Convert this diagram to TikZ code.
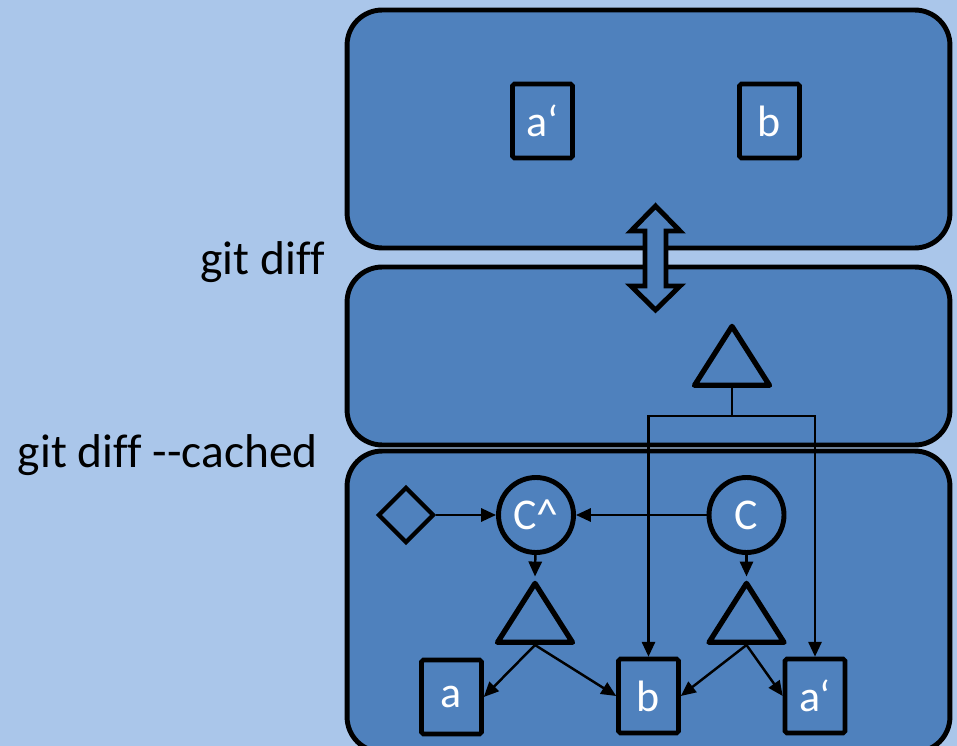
\documentclass[tikz,border=0pt]{standalone}
\usepackage{fontspec}
\setmainfont{Carlito}[Ligatures={TeX,NoCommon}]
\usetikzlibrary{arrows.meta,shapes.geometric,calc}
\definecolor{gitpale}{HTML}{AAC6EA}
\definecolor{gitblue}{HTML}{4F81BD}

\begin{document}
\begin{tikzpicture}[x=0.02cm,y=-0.02cm,
  area/.style={rectangle,rounded corners=20pt,draw=black,fill=gitblue,
               line width=2.8pt,minimum width=12.06cm,inner sep=0pt},
  blob/.style={rectangle,rounded corners=1pt,draw=black,fill=gitblue,
               line width=2.6pt,minimum width=1.2cm,minimum height=1.48cm,
               inner sep=0pt,text=white,font=\fontsize{25}{29}\selectfont},
  commit/.style={circle,draw=black,fill=gitblue,line width=2.8pt,
                 minimum size=1.5cm,inner sep=0pt,text=white,
                 font=\fontsize{25}{29}\selectfont},
  tree/.style={isosceles triangle,isosceles triangle stretches,
               shape border rotate=90,draw=black,fill=gitblue,
               line width=3pt,line join=round,minimum width=1.5cm,
               minimum height=1.18cm,inner sep=0pt,anchor=south},
  tag/.style={diamond,draw=black,fill=gitblue,line width=2.4pt,
              minimum size=1.12cm,inner sep=0pt},
  arr/.style={-{Triangle[length=8.5pt,width=7.5pt]},line width=1.4pt},
  cmd/.style={font=\fontsize{27}{32}\selectfont,inner sep=0pt}
]

  \path[use as bounding box,fill=gitpale] (0,0) rectangle (957,746);

  % ---- Three stacked areas -----------------------------------
  \node[area,minimum height=4.76cm] (wdir)  at (648.5,129)   {};
  \node[area,minimum height=6.02cm] (repo)  at (648.5,601.5) {};
  \node[area,minimum height=3.56cm] (index) at (648.5,356)   {};

  % ---- Hollow double arrow between working dir and index ----
  \draw[line width=2.8pt,fill=gitblue]
    (655.5,206) -- (680,231) -- (666,231) -- (666,286) -- (680,286)
    -- (655.5,310) -- (631,286) -- (645,286) -- (645,231) -- (631,231)
    -- cycle;

  % ---- Command labels ----------------------------------------
  \node[cmd,anchor=base east] (plain)  at (325,275) {git diff};
  \node[cmd,anchor=base east] (cached) at (318,468) {git diff -{}-cached};

  % ---- Working directory -------------------------------------
  \node[blob] (wa) at (542.5,121) {a‘};
  \node[blob] (wb) at (769.5,121) {b};

  % ---- Index -------------------------------------------------
  \node[tree] (itree) at (732,388) {};

  % ---- Repository --------------------------------------------
  \node[tag]    (head)  at (406,515)   {};
  \node[commit] (cprev) at (536,515)   {C\textasciicircum};
  \node[commit] (cnew)  at (746.5,515) {C};
  \node[tree]   (tprev) at (535,645)   {};
  \node[tree]   (tnew)  at (746.5,645) {};
  \node[blob]   (ra)    at (451.5,697) {a};
  \node[blob]   (rb)    at (648.5,696) {b};
  \node[blob]   (rap)   at (815,696)   {a‘};

  % ---- Arrows ------------------------------------------------
  \draw[arr] (head) -- (cprev);
  \draw[arr] (cnew) -- (cprev);
  \draw[arr] (cprev) -- (tprev.apex);
  \draw[arr] (cnew) -- (tnew.apex);
  \draw[arr] (tprev.south) -- (ra.east);
  \draw[arr] (tprev.south) -- (rb.west);
  \draw[arr] (tnew.south) -- (rb.east);
  \draw[arr] (tnew.south) -- (rap.west);

  % index tree points down to both blobs
  \coordinate (fork) at ($(itree.south)+(0,28)$);
  \draw[line width=1.4pt] (itree.south) -- (fork);
  \draw[arr] (fork) -| (rb.north);
  \draw[arr] (fork) -| (rap.north);

\end{tikzpicture}
\end{document}
